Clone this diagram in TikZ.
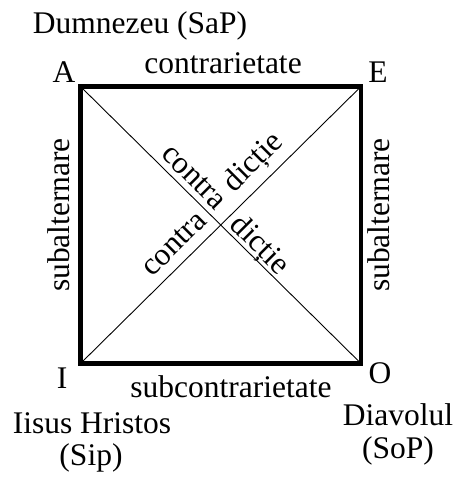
\documentclass[tikz,border=0pt]{standalone}
\usepackage{fontspec}
\setmainfont{Liberation Serif}
\begin{document}
\begin{tikzpicture}[x=1pt,y=-1pt,
  lbl/.style={inner sep=0pt, font=\fontsize{31.5}{36}\selectfont},
  edge/.style={line width=4.5pt, line join=miter},
  diag/.style={line width=0.9pt}]
\useasboundingbox (0,0) rectangle (455,480);
\coordinate (A) at (80.5,86.5);
\coordinate (E) at (361,86.5);
\coordinate (O) at (361,363.5);
\coordinate (I) at (80.5,363.5);
\draw[diag] (A) -- (O);
\draw[diag] (E) -- (I);
\draw[edge] (A) -- (E) -- (O) -- (I) -- cycle;
% corner letters
\node[lbl, anchor=base] (lA) at (64,82) {A};
\node[lbl, anchor=base] (lE) at (378,82) {E};
\node[lbl, anchor=base] (lI) at (62,388) {I};
\node[lbl, anchor=base] (lO) at (380,383) {O};
% names
\node[lbl, anchor=base] (god) at (140,33) {Dumnezeu (SaP)};
\node[lbl, anchor=base] (jes1) at (92,433) {Iisus Hristos};
\node[lbl, anchor=base] (jes2) at (91,465) {(Sip)};
\node[lbl, anchor=base] (dev1) at (398,425) {Diavolul};
\node[lbl, anchor=base] (dev2) at (398,458) {(SoP)};
% edge labels
\node[lbl, anchor=base] (ctr) at (223,73) {contrarietate};
\node[lbl, anchor=base] (sub) at (231,397) {subcontrarietate};
\node[lbl, rotate=90] (sl) at (59,215) {subalternare};
\node[lbl, rotate=90] (sr) at (379,215) {subalternare};
% diagonal labels
\node[lbl, rotate=-45] (c1) at (194,177) {contra};
\node[lbl, rotate=45] (d1) at (254,163) {dicție};
\node[lbl, rotate=45] (c2) at (174,244) {contra};
\node[lbl, rotate=-45] (d2) at (259,246) {dicție};
\end{tikzpicture}
\end{document}
